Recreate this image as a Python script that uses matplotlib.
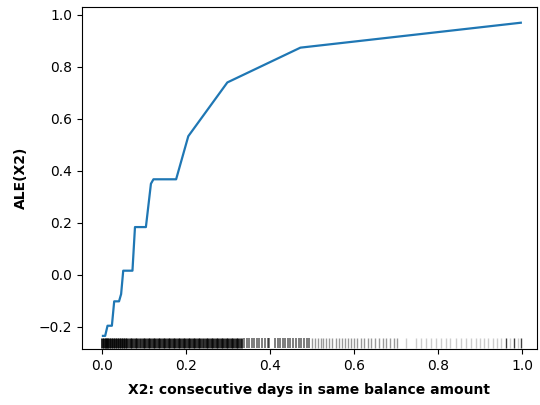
import matplotlib.pyplot as plt

# Curva ALE de X2
x2 = [0.0017, 0.007, 0.0126, 0.023, 0.0285, 0.040, 0.045, 0.050, 0.072, 0.078,
      0.104, 0.116, 0.122, 0.176, 0.205, 0.298, 0.472, 0.997]
ale = [-0.236, -0.236, -0.197, -0.197, -0.103, -0.103, -0.075, 0.015, 0.015, 0.183,
       0.183, 0.350, 0.367, 0.367, 0.533, 0.740, 0.874, 0.970]

# Rug de los valores observados (agrupados por densidad)
rug_dense = [0.000, 0.004, 0.008, 0.012, 0.016, 0.020, 0.025, 0.030, 0.035, 0.040,
             0.045, 0.050, 0.055, 0.060, 0.066, 0.072, 0.078, 0.084, 0.090, 0.096,
             0.102, 0.108, 0.114, 0.120, 0.126, 0.132, 0.138, 0.144, 0.150, 0.156,
             0.162, 0.168, 0.174, 0.180, 0.186, 0.192, 0.198, 0.204, 0.210, 0.216,
             0.222, 0.228, 0.234, 0.240, 0.246, 0.252, 0.258, 0.264, 0.270, 0.276,
             0.282, 0.288, 0.294, 0.300, 0.306, 0.312, 0.318, 0.324, 0.330]
rug_mid = [0.338, 0.344, 0.350, 0.357, 0.362, 0.368, 0.374, 0.381, 0.388, 0.394,
           0.398, 0.412, 0.418, 0.424, 0.430, 0.436, 0.442, 0.448, 0.455, 0.461,
           0.468, 0.474, 0.480, 0.487, 0.493]
rug_light = [0.500, 0.507, 0.514, 0.520, 0.527, 0.533, 0.540, 0.548, 0.556, 0.563,
             0.570, 0.578, 0.586, 0.593, 0.600, 0.608, 0.616, 0.624, 0.632, 0.640,
             0.650, 0.660, 0.668, 0.676, 0.685, 0.694, 0.702]
rug_sparse = [0.724, 0.748, 0.760, 0.772, 0.783, 0.795, 0.806, 0.818, 0.828, 0.842,
              0.855, 0.866, 0.878, 0.890, 0.900, 0.910, 0.920, 0.930, 0.940, 0.950,
              0.972, 0.990]
rug_dark = [0.962, 0.981, 0.998]

fig = plt.figure(figsize=(5.4, 4.05), dpi=100)
ax = fig.add_axes([0.152, 0.138, 0.842, 0.845])

ax.plot(x2, ale, color='#1f77b4', linewidth=1.6)

rug_y = -0.262
for vals, alpha, lw in [(rug_dense, 0.9, 2.0), (rug_mid, 0.6, 1.2),
                        (rug_light, 0.4, 1.0), (rug_sparse, 0.2, 1.0),
                        (rug_dark, 0.75, 1.0)]:
    ax.scatter(vals, [rug_y] * len(vals), marker='|', color='k', alpha=alpha,
               s=42, linewidths=lw)

ax.set_xlim(-0.048, 1.035)
ax.set_ylim(-0.287, 1.031)

ax.set_xlabel('X2: consecutive days in same balance amount',
              fontsize=10, fontweight='bold', labelpad=7)
ax.set_ylabel('ALE(X2)', fontsize=10, fontweight='bold', labelpad=8)

fig.savefig('out.png', dpi=100)
